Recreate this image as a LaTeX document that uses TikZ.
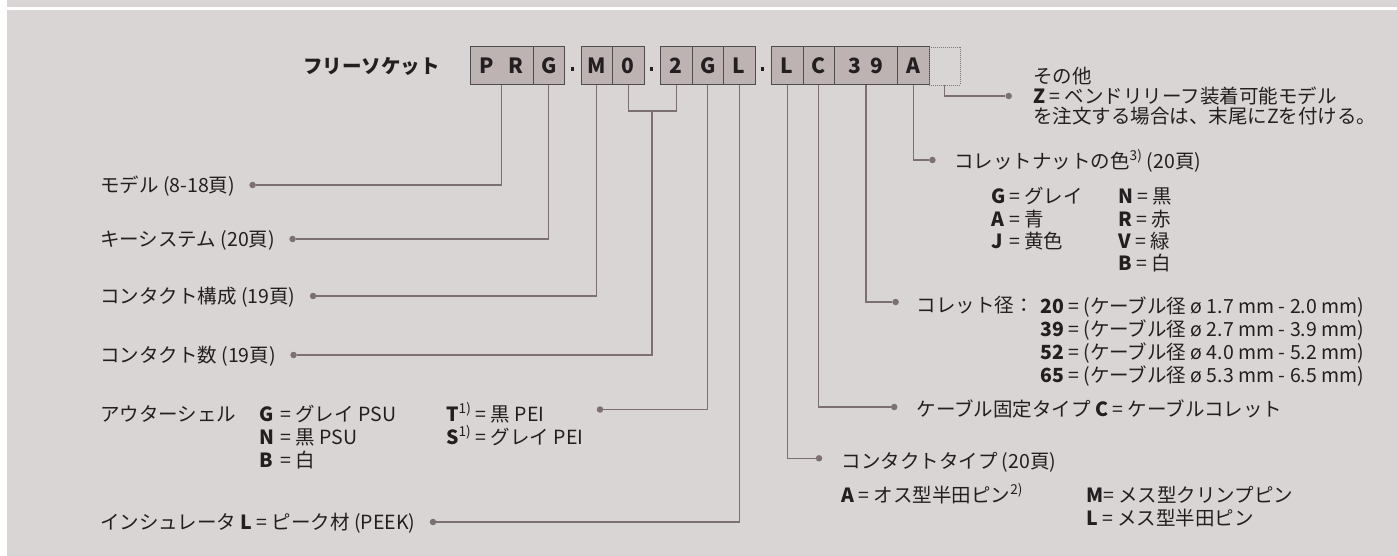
\documentclass[tikz,border=0pt]{standalone}
\usepackage{fontspec}
\usetikzlibrary{positioning}
\setmainfont{Noto Sans CJK JP}
\definecolor{bgcol}{HTML}{D9D5D4}
\definecolor{boxcol}{HTML}{BCB3B2}
\definecolor{linecol}{HTML}{7D7073}
\definecolor{txtcol}{HTML}{231F20}
\tikzset{
  seg/.style={draw=txtcol!80, fill=boxcol, line width=1pt, minimum width=31.5pt,
    minimum height=38pt, inner sep=0pt, text=txtcol,
    font=\fontsize{21}{21}\selectfont\bfseries},
  wideseg/.style={seg, minimum width=63pt},
  optseg/.style={draw=txtcol!60, dash pattern=on 1pt off 1pt, line width=0.8pt,
    minimum width=31.5pt, minimum height=38pt, inner sep=0pt},
  sepdot/.style={fill=txtcol, inner sep=0pt, minimum size=3.5pt},
  lbl/.style={anchor=west, inner sep=0pt, text height=17.2pt, text depth=2.3pt,
    text=txtcol, font=\fontsize{19.5}{23}\selectfont},
  pin/.style={circle, fill=linecol, inner sep=0pt, minimum size=6.5pt},
  lead/.style={draw=linecol, line width=1.1pt},
}
\newcommand{\cl}[1]{\makebox[21pt][l]{\textbf{#1}}}
\begin{document}
\begin{tikzpicture}[x=1pt,y=-1pt]
    \useasboundingbox (0,0) rectangle (1397,556);
    % background
    \fill[bgcol] (7,0) rectangle (1397,7);
    \fill[bgcol] (7,10) rectangle (1397,556);

    % order code
    \node[lbl, anchor=east, font=\fontsize{19.5}{20}\selectfont\bfseries] (title) at (440,66) {フリーソケット};
    \node[wideseg] (bPR) at (501.5,66) {P\hspace{14pt}R};
    \node[seg] (bKey) at (548.75,66) {G};
    \node[sepdot] (s1) at (572.7,69) {};
    \node[seg] (bM) at (596.75,66) {M};
    \node[seg] (b0) at (628.25,66) {0};
    \node[sepdot] (s2) at (651.7,69) {};
    \node[seg] (b2) at (676.25,66) {2};
    \node[seg] (bG) at (707.75,66) {G};
    \node[seg] (bL) at (739.25,66) {L};
    \node[sepdot] (s3) at (762.7,69) {};
    \node[seg] (bT) at (787.25,66) {L};
    \node[seg] (bC) at (818.75,66) {C};
    \node[wideseg] (b39) at (866,66) {3\hspace{9pt}9};
    \node[seg] (bA) at (913.25,66) {A};
    \node[optseg] (bZ) at (944.75,66) {};

    % labels on the left
    \node[lbl] (model) at (100,185) {モデル (8-18頁)};
    \node[pin, right=14pt of model] (dModel) {};
    \node[lbl] (keysys) at (100,239) {キーシステム (20頁)};
    \node[pin, right=14pt of keysys] (dKey) {};
    \node[lbl] (layout) at (100,296) {コンタクト構成 (19頁)};
    \node[pin, right=14pt of layout] (dLayout) {};
    \node[lbl] (count) at (100,355) {コンタクト数 (19頁)};
    \node[pin, right=14pt of count] (dCount) {};
    \node[lbl] (shell) at (100,414) {アウターシェル};
    \node[lbl] (shG) at (259,414) {\cl{G}= グレイ PSU};
    \node[lbl] (shN) at (259,437) {\cl{N}= 黒 PSU};
    \node[lbl] (shB) at (259,460) {\cl{B}= 白};
    \node[lbl] (shT) at (446,414) {\textbf{T}\textsuperscript{1)} = 黒 PEI};
    \node[lbl] (shS) at (446,437) {\textbf{S}\textsuperscript{1)} = グレイ PEI};
    \node[pin] (dShell) at (600,409.5) {};
    \node[lbl] (insul) at (100,522) {インシュレータ \textbf{L} = ピーク材 (PEEK)};
    \node[pin, right=14pt of insul] (dIns) {};

    % labels on the right
    \node[lbl] (other) at (1033,76) {その他};
    \node[lbl] (otherZ) at (1033,96) {\textbf{Z} = ベンドリリーフ装着可能モデル};
    \node[lbl] (otherZb) at (1033,116) {を注文する場合は、末尾にZを付ける。};
    \node[pin] (dZ) at (1008.7,96) {};
    \node[lbl] (nut) at (954,161) {コレットナットの色\textsuperscript{3)} (20頁)};
    \node[pin] (dNut) at (932.4,160) {};
    \node[lbl] (nG) at (991,196) {\makebox[18pt][l]{\textbf{G}}= グレイ};
    \node[lbl] (nA) at (991,219) {\makebox[18pt][l]{\textbf{A}}= 青};
    \node[lbl] (nJ) at (991,241) {\makebox[18pt][l]{\textbf{J}}= 黄色};
    \node[lbl] (nN) at (1118,196) {\textbf{N} = 黒};
    \node[lbl] (nR) at (1118,219) {\textbf{R} = 赤};
    \node[lbl] (nV) at (1118,241) {\textbf{V} = 緑};
    \node[lbl] (nB) at (1118,263) {\textbf{B} = 白};
    \node[lbl] (collet) at (916.4,305) {コレット径：};
    \node[pin] (dCol) at (895.6,302) {};
    \node[lbl] (c20) at (1040,306) {\textbf{20} = (ケーブル径 ø 1.7 mm - 2.0 mm)};
    \node[lbl] (c39) at (1040,329) {\textbf{39} = (ケーブル径 ø 2.7 mm - 3.9 mm)};
    \node[lbl] (c52) at (1040,352) {\textbf{52} = (ケーブル径 ø 4.0 mm - 5.2 mm)};
    \node[lbl] (c65) at (1040,375) {\textbf{65} = (ケーブル径 ø 5.3 mm - 6.5 mm)};
    \node[lbl] (fix) at (916.4,409) {ケーブル固定タイプ \textbf{C} = ケーブルコレット};
    \node[pin] (dFix) at (894.2,407) {};
    \node[lbl] (ctype) at (841.3,461) {コンタクトタイプ (20頁)};
    \node[pin] (dType) at (819,458.3) {};
    \node[lbl] (tA) at (841,495) {\textbf{A} = オス型半田ピン\textsuperscript{2)}};
    \node[lbl] (tM) at (1086,495) {\textbf{M}= メス型クリンプピン};
    \node[lbl] (tL) at (1086,518) {\textbf{L} = メス型半田ピン};

    % leads
    \coordinate (jn) at (652,111);
    \draw[lead] (bPR.south) |- (dModel);
    \draw[lead] (bKey.south) |- (dKey);
    \draw[lead] (bM.south) |- (dLayout);
    \draw[lead] (b0.south) |- (jn) -| (b2.south);
    \draw[lead] (jn) |- (dCount);
    \draw[lead] (bG.south) |- (dShell);
    \draw[lead] (bL.south) |- (dIns);
    \draw[lead] (bT.south) |- (dType);
    \draw[lead] (bC.south) |- (dFix);
    \draw[lead] (b39.south) |- (dCol);
    \draw[lead] (bA.south) |- (dNut);
    \draw[lead] (bZ.south) |- (dZ);
\end{tikzpicture}
\end{document}
